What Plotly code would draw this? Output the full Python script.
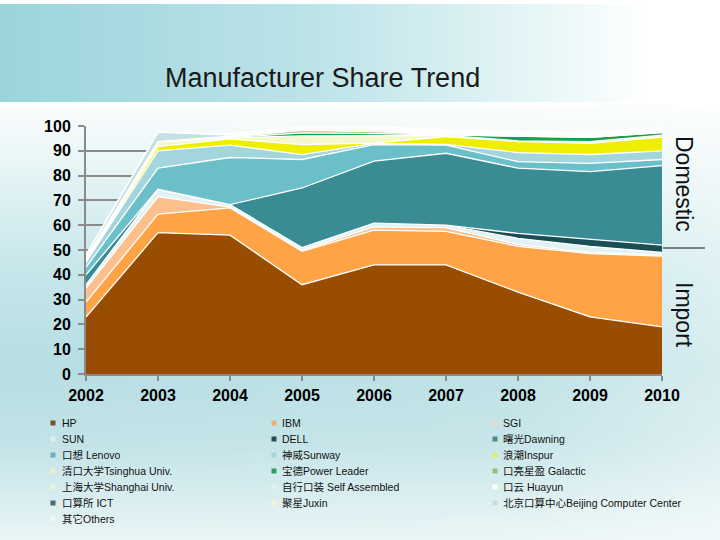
import base64
import plotly.graph_objects as go

# ---------------- data ----------------
years = [2002, 2003, 2004, 2005, 2006, 2007, 2008, 2009, 2010]

names = [
    "HP", "IBM", "SGI",
    "SUN", "DELL", "曙光Dawning",
    "口想 Lenovo", "神威Sunway", "浪潮Inspur",
    "清口大学Tsinghua Univ.", "宝德Power Leader", "口亮星盈 Galactic",
    "上海大学Shanghai Univ.", "自行口装 Self Assembled", "口云 Huayun",
    "口算所 ICT", "聚星Juxin", "北京口算中心Beijing Computer Center",
    "其它Others",
]

hp            = [23, 57, 56, 36, 44, 44, 33, 23, 19]
ibm           = [6, 7.5, 11, 13.5, 14, 13.5, 18.5, 25.5, 28.5]
sgi           = [5.5, 7, 0.3, 0.5, 1.3, 1.5, 0.7, 0.5, 0.5]
sun           = [1, 3, 1, 1, 1.5, 1, 2.5, 2.5, 1]
dell          = [0.5, 0, 0, 0, 0, 0, 2, 2.8, 3]
dawning       = [4, 0, 0, 24, 25, 29, 26.3, 27.3, 32]
lenovo        = [3, 8.5, 19, 11.5, 6.7, 3.3, 2.6, 3.3, 2.5]
sunway        = [2, 7, 5, 2, 0.5, 0.3, 3.7, 3.6, 3.5]
inspur        = [0.3, 1.7, 2.5, 4, 0.1, 3.1, 4.4, 4.5, 5.5]
tsinghua      = [0.3, 2, 0.5, 3.5, 3, 0.5, 0.3, 0.7, 0.8]
powerleader   = [0, 0, 0, 1.2, 0.8, 0.1, 1.9, 1.7, 1]
galactic      = [0, 0, 0.3, 1, 0.8, 0.2, 0, 0, 0]
shanghai      = [0.3, 0, 0, 0.5, 0.5, 0.3, 0.3, 0.3, 0.2]
self_assembled = [0.5, 0, 0.3, 0.3, 0.5, 0.5, 0.5, 0.5, 0.5]
huayun        = [0, 0, 0, 0, 0.2, 0.3, 0.3, 0.3, 0.3]
ict           = [0.3, 0, 0, 0, 0, 0, 0, 0, 0]
juxin         = [0, 0, 0, 0, 0.2, 0.2, 0.2, 0.2, 0.2]
beijing_cc    = [1, 3.8, 0.4, 0.2, 0.2, 0.2, 0.2, 0.2, 0.2]
others        = [0.5, 0, 0.5, 0.5, 0.5, 0.5, 0.5, 0.5, 0.5]

series = [hp, ibm, sgi, sun, dell, dawning, lenovo, sunway, inspur,
          tsinghua, powerleader, galactic, shanghai, self_assembled,
          huayun, ict, juxin, beijing_cc, others]

colors = [
    "#994D00", "#FFA347", "#FDC08C",
    "#E2F1F3", "#1B4D55", "#3A8C94",
    "#6BBFC8", "#A3D6DC", "#EEEE00",
    "#F5F8CC", "#18A050", "#A8C878",
    "#F6F7E2", "#EAF4F4", "#FFFFFF",
    "#4F6A6E", "#F7F7E4", "#C5E0E6",
    "#F2F8F8",
]
legend_marker_colors = [
    "#7A4E2A", "#F0B070", "#E8D8C8",
    "#E0EEF0", "#2A4A50", "#4A8A92",
    "#6AB0B8", "#A8D4D8", "#E0F060",
    "#E8F4C0", "#2AA060", "#90C080",
    "#EEF4D8", "#E4F0F0", "#FFFFFF",
    "#506868", "#F4F4DC", "#C8DCE0",
    "#EEF6F6",
]

# ---------------- layout geometry ----------------
W, H = 720, 540
L, R, T, B = 86, 58, 126, 166
PW, PH = W - L - R, H - T - B


def px(x):
    return (x - L) / PW


def py(y):
    return (H - B - y) / PH


fig = go.Figure()
for name, vals, col in zip(names, series, colors):
    fig.add_trace(go.Scatter(
        x=years, y=vals, name=name, mode="lines", stackgroup="one",
        line=dict(color="white", width=1.3), fillcolor=col,
        showlegend=False,
    ))

# background (slide) as an SVG gradient image
svg = """<svg xmlns="http://www.w3.org/2000/svg" width="720" height="540" viewBox="0 0 720 540" preserveAspectRatio="none">
<defs>
<linearGradient id="hdr" x1="0" y1="0" x2="1" y2="0">
<stop offset="0" stop-color="#9cd4dc"/>
<stop offset="0.45" stop-color="#bde4e9"/>
<stop offset="0.75" stop-color="#e8f6f7"/>
<stop offset="0.9" stop-color="#ffffff"/>
</linearGradient>
<linearGradient id="body" x1="0" y1="0" x2="0" y2="1">
<stop offset="0" stop-color="#fbfdfd"/>
<stop offset="0.12" stop-color="#eaf6f7"/>
<stop offset="0.38" stop-color="#c6e6ea"/>
<stop offset="0.6" stop-color="#b6dee3"/>
<stop offset="0.78" stop-color="#c2e3e7"/>
<stop offset="1" stop-color="#e9f5f6"/>
</linearGradient>
<linearGradient id="side" x1="0" y1="0" x2="1" y2="0">
<stop offset="0" stop-color="#ffffff" stop-opacity="0"/>
<stop offset="0.7" stop-color="#ffffff" stop-opacity="0.1"/>
<stop offset="1" stop-color="#ffffff" stop-opacity="0.45"/>
</linearGradient>
</defs>
<rect width="720" height="540" fill="#ffffff"/>
<rect y="105" width="720" height="435" fill="url(#body)"/>
<rect y="105" width="720" height="435" fill="url(#side)"/>
<rect y="4" width="720" height="98" fill="url(#hdr)"/>
</svg>"""
bg_src = "data:image/svg+xml;base64," + base64.b64encode(svg.encode("utf-8")).decode("ascii")

annotations = [
    dict(text="Manufacturer Share Trend", x=px(322), y=py(78), xref="paper", yref="paper",
         xanchor="center", yanchor="middle", showarrow=False,
         font=dict(family="Liberation Sans", size=27, color="#1a1a1a")),
    dict(text="Domestic", x=px(684), y=py(184), xref="paper", yref="paper",
         xanchor="center", yanchor="middle", showarrow=False, textangle=90,
         font=dict(family="Liberation Sans", size=23, color="#111111")),
    dict(text="Import", x=px(684), y=py(315), xref="paper", yref="paper",
         xanchor="center", yanchor="middle", showarrow=False, textangle=90,
         font=dict(family="Liberation Sans", size=23, color="#111111")),
]

shapes = [
    dict(type="line", xref="paper", yref="paper", x0=px(663), x1=px(705),
         y0=py(248), y1=py(248), line=dict(color="#111111", width=1)),
]

# hand-laid legend (3 columns, row-major like the original)
text_x = [60, 280, 501]
mark_x = [53, 274, 495]
for i, (name, mc) in enumerate(zip(names, legend_marker_colors)):
    r, c = divmod(i, 3)
    yc = 423 + 16 * r
    annotations.append(dict(
        text=name, x=px(text_x[c]), y=py(yc), xref="paper", yref="paper",
        xanchor="left", yanchor="middle", showarrow=False,
        font=dict(family="Liberation Sans, Noto Sans CJK SC", size=10.5, color="#111111")))
    shapes.append(dict(
        type="rect", xref="paper", yref="paper",
        x0=px(mark_x[c] - 2.5), x1=px(mark_x[c] + 2.5),
        y0=py(yc - 2.5), y1=py(yc + 2.5),
        fillcolor=mc, line=dict(width=0)))

fig.update_layout(
    width=W, height=H, autosize=False,
    margin=dict(l=L, r=R, t=T, b=B, pad=0),
    paper_bgcolor="#ffffff", plot_bgcolor="rgba(0,0,0,0)",
    showlegend=False,
    images=[dict(source=bg_src, xref="paper", yref="paper",
                 x=px(0), y=py(0), sizex=W / PW, sizey=H / PH,
                 xanchor="left", yanchor="top", sizing="stretch", layer="below")],
    annotations=annotations,
    shapes=shapes,
    xaxis=dict(range=[2002, 2010], tickvals=years, ticktext=[str(y) for y in years],
               showgrid=False, zeroline=False, showline=True, linecolor="#8a8a8a", linewidth=2,
               ticks="outside", ticklen=5, tickwidth=2, tickcolor="#8a8a8a",
               ticklabelstandoff=1,
               tickfont=dict(family="Liberation Sans", size=16, color="#000000", weight="bold")),
    yaxis=dict(range=[0, 100], dtick=10, showgrid=True, gridcolor="#8a8a8a", gridwidth=2,
               zeroline=False, showline=True, linecolor="#8a8a8a", linewidth=2,
               ticks="outside", ticklen=6, tickwidth=2, tickcolor="#8a8a8a",
               ticklabelstandoff=4,
               tickfont=dict(family="Liberation Sans", size=16, color="#000000", weight="bold")),
)

fig.write_html("out.html")
